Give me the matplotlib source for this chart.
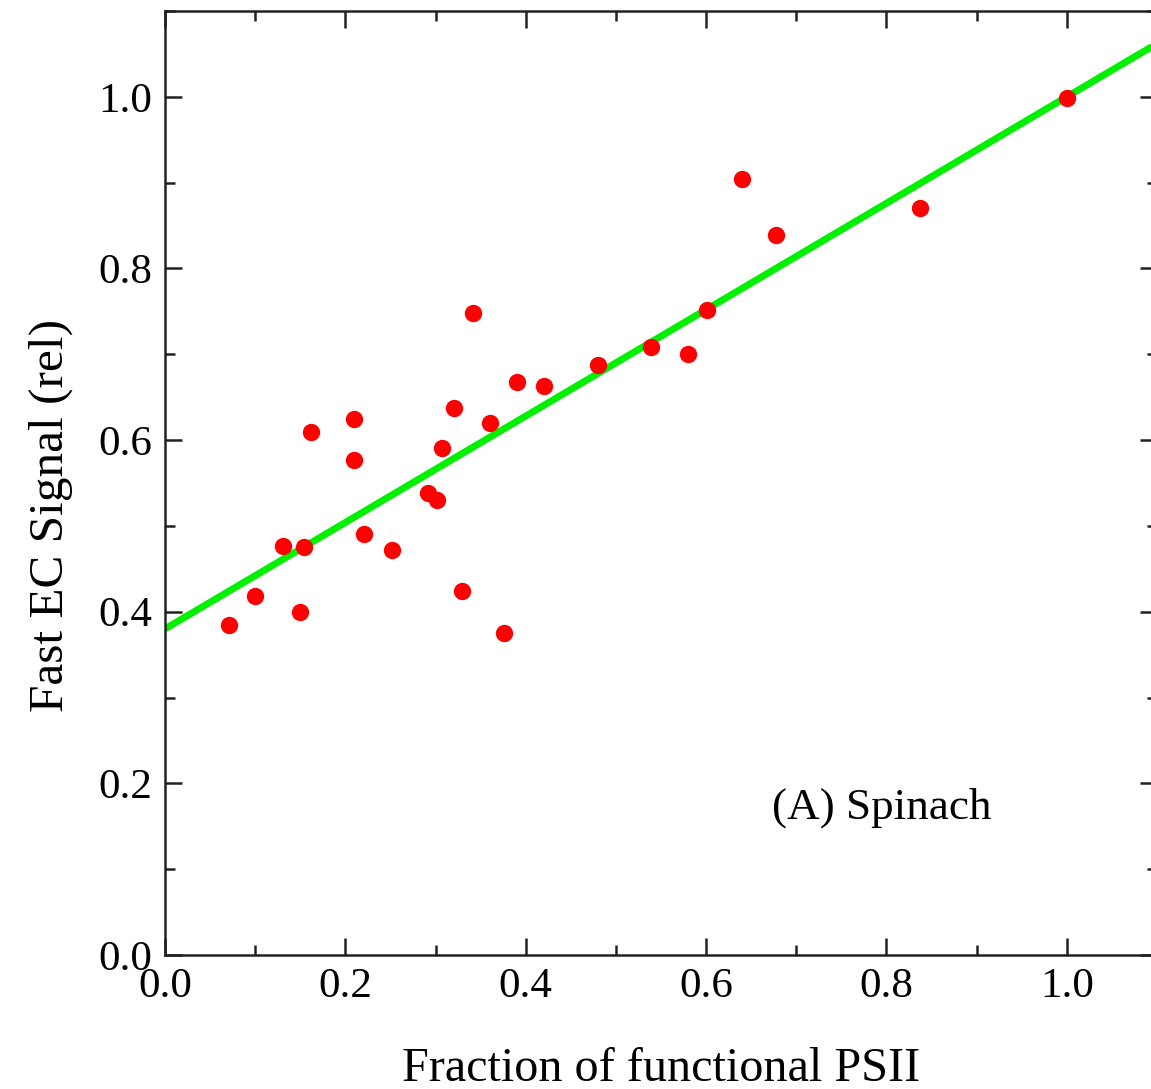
import numpy as np
import matplotlib
matplotlib.use('Agg')
import matplotlib.pyplot as plt
from matplotlib.ticker import MultipleLocator

# fraction of functional PSII vs. fast EC signal (relative)
psii_fraction = [0.071, 0.100, 0.131, 0.150, 0.154, 0.162, 0.210, 0.210,
                 0.221, 0.252, 0.292, 0.302, 0.307, 0.321, 0.329, 0.342,
                 0.360, 0.376, 0.390, 0.420, 0.480, 0.539, 0.580, 0.601,
                 0.640, 0.678, 0.837, 1.000]
ec_signal = [0.385, 0.418, 0.477, 0.400, 0.476, 0.609, 0.625, 0.577,
             0.490, 0.472, 0.538, 0.530, 0.591, 0.637, 0.424, 0.748,
             0.620, 0.375, 0.668, 0.663, 0.687, 0.708, 0.700, 0.752,
             0.904, 0.839, 0.871, 0.999]

# linear fit shown as the green line
fit_intercept = 0.38
fit_slope = 0.62

plt.rcParams['font.family'] = ['Liberation Serif', 'DejaVu Serif']

fig = plt.figure(figsize=(11.51, 10.89), dpi=100)
ax = fig.add_axes([165/1151, 134/1089, 992/1151, 944/1089])

xfit = np.array([0.0, 1.1])
ax.plot(xfit, fit_intercept + fit_slope*xfit, color='#00f000', lw=5,
        solid_capstyle='butt', zorder=2)
ax.plot(psii_fraction, ec_signal, 'o', color='#ff0000', markersize=12.5,
        markeredgewidth=0, zorder=3)

ax.set_xlim(0, 1.1)
ax.set_ylim(0, 1.1)
ax.xaxis.set_major_locator(MultipleLocator(0.2))
ax.xaxis.set_minor_locator(MultipleLocator(0.1))
ax.yaxis.set_major_locator(MultipleLocator(0.2))
ax.yaxis.set_minor_locator(MultipleLocator(0.1))
ax.xaxis.set_major_formatter(plt.FormatStrFormatter('%.1f'))
ax.yaxis.set_major_formatter(plt.FormatStrFormatter('%.1f'))

ax.tick_params(which='both', direction='in', top=True, right=True,
               labelsize=31, width=1.8, color='#222222', pad=9)
ax.tick_params(which='major', length=12)
ax.tick_params(which='minor', length=7)
for s in ax.spines.values():
    s.set_linewidth(1.8)
    s.set_color('#222222')

ax.set_xlabel('Fraction of functional PSII', fontsize=34.7)
ax.set_ylabel('Fast EC Signal (rel)', fontsize=35.5)
ax.xaxis.set_label_coords(0.5, -0.097)
ax.yaxis.set_label_coords(-0.093, 0.466)

ax.text(0.673, 0.171, '(A) Spinach', fontsize=32.5, va='center', ha='left')

plt.savefig('out.png', dpi=100)
plt.close()
